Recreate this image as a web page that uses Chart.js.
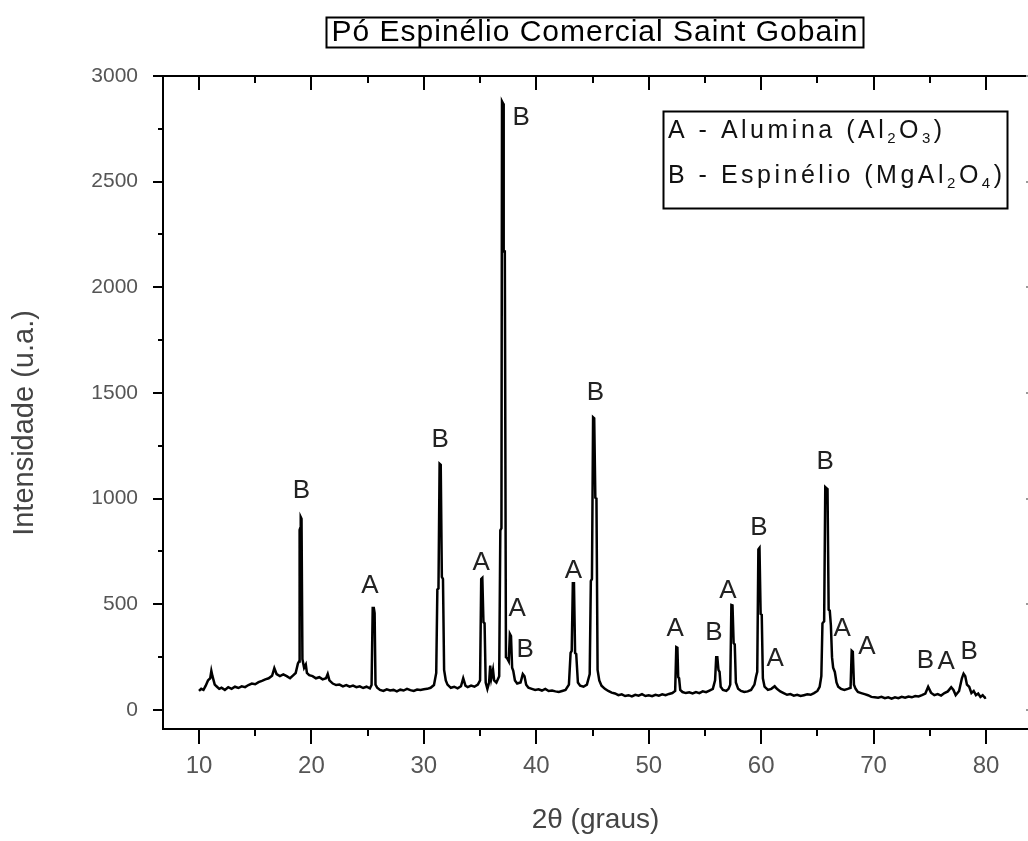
<!DOCTYPE html>
<html>
<head>
<meta charset="utf-8">
<script src="https://cdn.jsdelivr.net/npm/chart.js@4.4.1/dist/chart.umd.min.js"></script>
<style>
  html, body { margin: 0; padding: 0; background: #fff; overflow: hidden; }
  #wrap { width: 1028px; height: 841px; }
</style>
</head>
<body>
<div id="wrap"><canvas id="chart" width="1028" height="841"></canvas></div>
<script>
const twoTheta = [
  10.0, 10.2, 10.4, 10.6, 10.8, 11.0, 11.1, 11.2, 11.4, 11.6,
  11.8, 12.0, 12.3, 12.6, 12.9, 13.2, 13.5, 13.8, 14.1, 14.4,
  14.7, 15.0, 15.3, 15.6, 15.9, 16.2, 16.5, 16.7, 16.9, 17.2,
  17.5, 17.8, 18.1, 18.4, 18.6, 18.8, 18.9, 18.95, 19.0, 19.05,
  19.12, 19.2, 19.35, 19.5, 19.6, 19.8, 20.1, 20.4, 20.7, 21.0,
  21.3, 21.45, 21.6, 21.9, 22.2, 22.5, 22.8, 23.1, 23.4, 23.7,
  24.0, 24.3, 24.6, 24.9, 25.2, 25.35, 25.45, 25.55, 25.62, 25.7,
  25.85, 26.1, 26.4, 26.7, 27.0, 27.3, 27.6, 27.9, 28.2, 28.5,
  28.8, 29.1, 29.4, 29.7, 30.0, 30.3, 30.6, 30.9, 31.1, 31.2,
  31.3, 31.4, 31.5, 31.6, 31.7, 31.8, 31.95, 32.1, 32.4, 32.7,
  33.0, 33.3, 33.5, 33.7, 33.9, 34.2, 34.5, 34.8, 35.0, 35.1,
  35.2, 35.3, 35.4, 35.5, 35.65, 35.8, 35.9, 36.0, 36.15, 36.25,
  36.45, 36.7, 36.8, 36.9, 36.95, 37.05, 37.1, 37.2, 37.3, 37.4,
  37.55, 37.65, 37.75, 37.85, 37.95, 38.1, 38.3, 38.6, 38.8, 38.95,
  39.1, 39.3, 39.6, 39.9, 40.2, 40.5, 40.8, 41.1, 41.4, 41.7,
  42.0, 42.3, 42.6, 42.9, 43.05, 43.15, 43.25, 43.35, 43.45, 43.55,
  43.7, 43.9, 44.2, 44.5, 44.75, 44.85, 44.95, 45.05, 45.15, 45.25,
  45.35, 45.45, 45.6, 45.8, 46.1, 46.4, 46.7, 47.0, 47.3, 47.6,
  47.9, 48.2, 48.5, 48.8, 49.1, 49.4, 49.7, 50.0, 50.3, 50.6,
  50.9, 51.2, 51.5, 51.8, 52.1, 52.35, 52.45, 52.55, 52.62, 52.7,
  52.8, 53.0, 53.3, 53.6, 53.9, 54.2, 54.5, 54.8, 55.1, 55.4,
  55.7, 55.9, 56.0, 56.1, 56.2, 56.3, 56.4, 56.6, 56.9, 57.1,
  57.25, 57.35, 57.45, 57.55, 57.65, 57.75, 57.95, 58.2, 58.5, 58.8,
  59.1, 59.4, 59.55, 59.65, 59.75, 59.85, 59.95, 60.05, 60.15, 60.3,
  60.6, 60.9, 61.2, 61.4, 61.7, 62.0, 62.3, 62.6, 62.9, 63.2,
  63.5, 63.8, 64.1, 64.4, 64.7, 65.0, 65.2, 65.35, 65.45, 65.6,
  65.7, 65.8, 65.9, 66.0, 66.1, 66.2, 66.3, 66.4, 66.55, 66.7,
  66.85, 67.1, 67.4, 67.7, 67.95, 68.05, 68.15, 68.25, 68.4, 68.6,
  68.9, 69.2, 69.5, 69.8, 70.1, 70.4, 70.7, 71.0, 71.3, 71.6,
  71.9, 72.2, 72.5, 72.8, 73.1, 73.4, 73.7, 74.0, 74.3, 74.6,
  74.85, 75.1, 75.4, 75.7, 76.0, 76.3, 76.6, 76.9, 77.1, 77.3,
  77.6, 77.85, 78.0, 78.15, 78.3, 78.5, 78.7, 78.9, 79.1, 79.3,
  79.5, 79.7, 79.9, 80.0
];
const intensity = [
  90, 100, 95, 115, 140, 150, 185, 160, 120, 110,
  100, 105, 95, 108, 100, 110, 104, 112, 108, 118,
  125, 122, 132, 138, 145, 150, 162, 198, 170, 160,
  168, 160, 150, 165, 175, 220, 230, 852, 860, 913,
  905, 240, 200, 215, 175, 165, 160, 150, 155, 145,
  150, 170, 140, 125, 118, 120, 112, 118, 110, 115,
  108, 112, 104, 110, 102, 118, 483, 483, 459, 120,
  105, 95, 90, 98, 92, 95, 88, 96, 92, 100,
  94, 90, 97, 95, 98, 100, 105, 118, 175, 570,
  575, 1165, 1160, 630, 620, 190, 140, 120, 105, 110,
  102, 112, 150, 115, 108, 115, 110, 120, 140, 620,
  625, 415, 410, 130, 100, 130, 210, 150, 190, 140,
  130, 160, 850, 860, 2880, 2870, 2170, 2170, 250, 245,
  230, 360, 350, 200, 185, 140, 125, 130, 170, 160,
  120, 105, 100, 95, 98, 92, 100, 90, 92, 88,
  85, 90, 95, 120, 270, 280, 600, 600, 270, 265,
  130, 115, 110, 120, 170, 610, 620, 1385, 1380, 1005,
  1000, 190, 140, 115, 100, 90, 82, 78, 70, 74,
  66, 70, 64, 72, 68, 75, 66, 70, 65, 72,
  68, 74, 70, 76, 80, 90, 298, 295, 156, 150,
  95, 85, 80, 84, 78, 85, 80, 88, 84, 92,
  100, 140, 250, 250, 190, 180, 110, 95, 90, 100,
  120, 497, 495, 317, 310, 130, 100, 90, 85, 88,
  95, 120, 160, 180, 760, 767, 455, 450, 150, 110,
  95, 100, 112, 100, 88, 80, 72, 75, 68, 72,
  66, 70, 74, 72, 80, 90, 110, 160, 410, 420,
  1055, 1050, 1045, 475, 470, 400, 250, 200, 180, 130,
  110, 100, 95, 100, 105, 280, 275, 120, 100, 85,
  80, 75, 70, 62, 60, 58, 62, 56, 60, 54,
  60, 56, 62, 58, 64, 60, 66, 64, 70, 78,
  110, 82, 70, 75, 68, 80, 88, 108, 95, 70,
  90, 150, 172, 160, 120, 110, 80, 90, 70, 78,
  62, 70, 58, 60
];

// identificação das fases sobre os picos
const peakLabel = ['B', 'A', 'B', 'A', 'B', 'A', 'B', 'A', 'B', 'A', 'B', 'A', 'B', 'A', 'B', 'A', 'A', 'B', 'A', 'B'];
const peakLabelX = [19.1, 25.2, 31.45, 35.1, 38.65, 38.3, 39.0, 43.3, 45.25, 52.35, 55.8, 57.05, 59.8, 61.25, 65.7, 67.2, 69.4, 74.6, 76.45, 78.5];
const peakLabelY = [1036, 587, 1278, 696, 2802, 480, 284, 658, 1500, 383, 364, 563, 861, 241, 1174, 383, 298, 232, 227, 274];

const xTicks = [10, 20, 30, 40, 50, 60, 70, 80];
const xMinor = [5, 15, 25, 35, 45, 55, 65, 75, 85];
const yTicks = [0, 500, 1000, 1500, 2000, 2500, 3000];
const yMinor = [250, 750, 1250, 1750, 2250, 2750];

const points = twoTheta.map((t, i) => ({ x: t, y: intensity[i] }));

function richText(ctx, parts, x, y) {
  let cx = x;
  for (const p of parts) {
    ctx.font = p.sub ? '15px "Liberation Sans"' : '25px "Liberation Sans"';
    ctx.fillText(p.t, cx, p.sub ? y + 8 : y);
    cx += ctx.measureText(p.t).width;
  }
}

const decor = {
  id: 'decor',
  afterDraw(chart) {
    const { ctx, chartArea: a } = chart;
    const x = chart.scales.x, y = chart.scales.y;
    ctx.save();
    ctx.strokeStyle = '#000';
    ctx.lineWidth = 2;
    // moldura superior
    ctx.beginPath();
    ctx.moveTo(a.left, a.top);
    ctx.lineTo(a.right, a.top);
    ctx.stroke();
    // ticks do eixo superior (para dentro)
    ctx.beginPath();
    for (const v of xTicks.concat(xMinor)) {
      const px = Math.round(x.getPixelForValue(v));
      if (px <= a.left || px >= a.right) continue;
      const len = xTicks.includes(v) ? 14 : 7;
      ctx.moveTo(px, a.top); ctx.lineTo(px, a.top + len);
    }
    // ticks menores inferiores
    for (const v of xMinor) {
      const px = Math.round(x.getPixelForValue(v));
      if (px <= a.left || px >= a.right) continue;
      ctx.moveTo(px, a.bottom); ctx.lineTo(px, a.bottom + 7);
    }
    // ticks menores esquerdos
    for (const v of yMinor) {
      const py = Math.round(y.getPixelForValue(v));
      ctx.moveTo(a.left, py); ctx.lineTo(a.left - 5, py);
    }
    ctx.stroke();
    // marcas do eixo direito, cortadas na borda
    ctx.fillStyle = '#999';
    for (const v of yTicks) {
      const py = Math.round(y.getPixelForValue(v));
      ctx.fillRect(a.right - 2, py - 1, 2, 2);
    }

    // rótulos A / B
    ctx.fillStyle = '#222';
    ctx.font = '26px "Liberation Sans"';
    ctx.textAlign = 'center';
    ctx.textBaseline = 'middle';
    peakLabel.forEach((s, i) => {
      ctx.fillText(s, x.getPixelForValue(peakLabelX[i]), y.getPixelForValue(peakLabelY[i]));
    });

    // título do eixo y
    ctx.save();
    ctx.translate(25, 423);
    ctx.rotate(-Math.PI / 2);
    ctx.fillStyle = '#444';
    ctx.font = '29px "Liberation Sans"';
    ctx.fillText('Intensidade (u.a.)', 0, 0);
    ctx.restore();

    // título com caixa
    ctx.fillStyle = '#000';
    ctx.font = '30px "Liberation Sans"';
    ctx.letterSpacing = '1px';
    ctx.textAlign = 'center';
    ctx.textBaseline = 'middle';
    const title = 'Pó Espinélio Comercial Saint Gobain';
    const tw = ctx.measureText(title).width;
    ctx.fillText(title, 595, 33);
    ctx.strokeRect(Math.round(595 - tw / 2 - 6) + 0.5, 17.5, Math.round(tw + 10), 30);

    // legenda
    ctx.strokeRect(663.5, 111.5, 344, 97);
    ctx.textAlign = 'left';
    ctx.letterSpacing = '3.5px';
    ctx.fillStyle = '#111';
    richText(ctx, [{ t: 'A - Alumina (Al' }, { t: '2', sub: true }, { t: 'O' }, { t: '3', sub: true }, { t: ')' }], 668, 131);
    richText(ctx, [{ t: 'B - Espinélio (MgAl' }, { t: '2', sub: true }, { t: 'O' }, { t: '4', sub: true }, { t: ')' }], 668, 176);
    ctx.letterSpacing = '0px';
    ctx.restore();
  }
};

const config = {
  type: 'line',
  data: {
    datasets: [{
      data: points,
      borderColor: '#000',
      borderWidth: 2.5,
      pointRadius: 0,
      tension: 0,
      fill: false
    }]
  },
  options: {
    responsive: false,
    animation: false,
    layout: { padding: { top: 76, right: 0, bottom: 0, left: 0 } },
    plugins: { legend: { display: false }, tooltip: { enabled: false } },
    scales: {
      x: {
        type: 'linear',
        min: 6.8,
        max: 83.73,
        afterBuildTicks: s => { s.ticks = xTicks.map(v => ({ value: v })); },
        afterFit: s => { s.height = 112; },
        grid: { drawOnChartArea: false, drawTicks: true, tickLength: 15, color: '#000', lineWidth: 2 },
        border: { display: true, color: '#000', width: 2 },
        ticks: { color: '#555', font: { family: 'Liberation Sans', size: 24 }, padding: 8, maxRotation: 0 },
        title: { display: true, text: '2θ (graus)', color: '#444', font: { family: 'Liberation Sans', size: 28 }, padding: { top: 0, bottom: 4 } }
      },
      y: {
        type: 'linear',
        min: -90,
        max: 3000,
        afterBuildTicks: s => { s.ticks = yTicks.map(v => ({ value: v })); },
        afterFit: s => { s.width = 163; },
        grid: { drawOnChartArea: false, drawTicks: true, tickLength: 10, color: '#000', lineWidth: 2 },
        border: { display: true, color: '#000', width: 2 },
        ticks: { color: '#555', font: { family: 'Liberation Sans', size: 21 }, padding: 15, callback: v => String(v) },
        title: { display: false }
      }
    }
  },
  plugins: [decor]
};

var chart = new Chart(document.getElementById('chart'), config);
</script>
</body>
</html>
